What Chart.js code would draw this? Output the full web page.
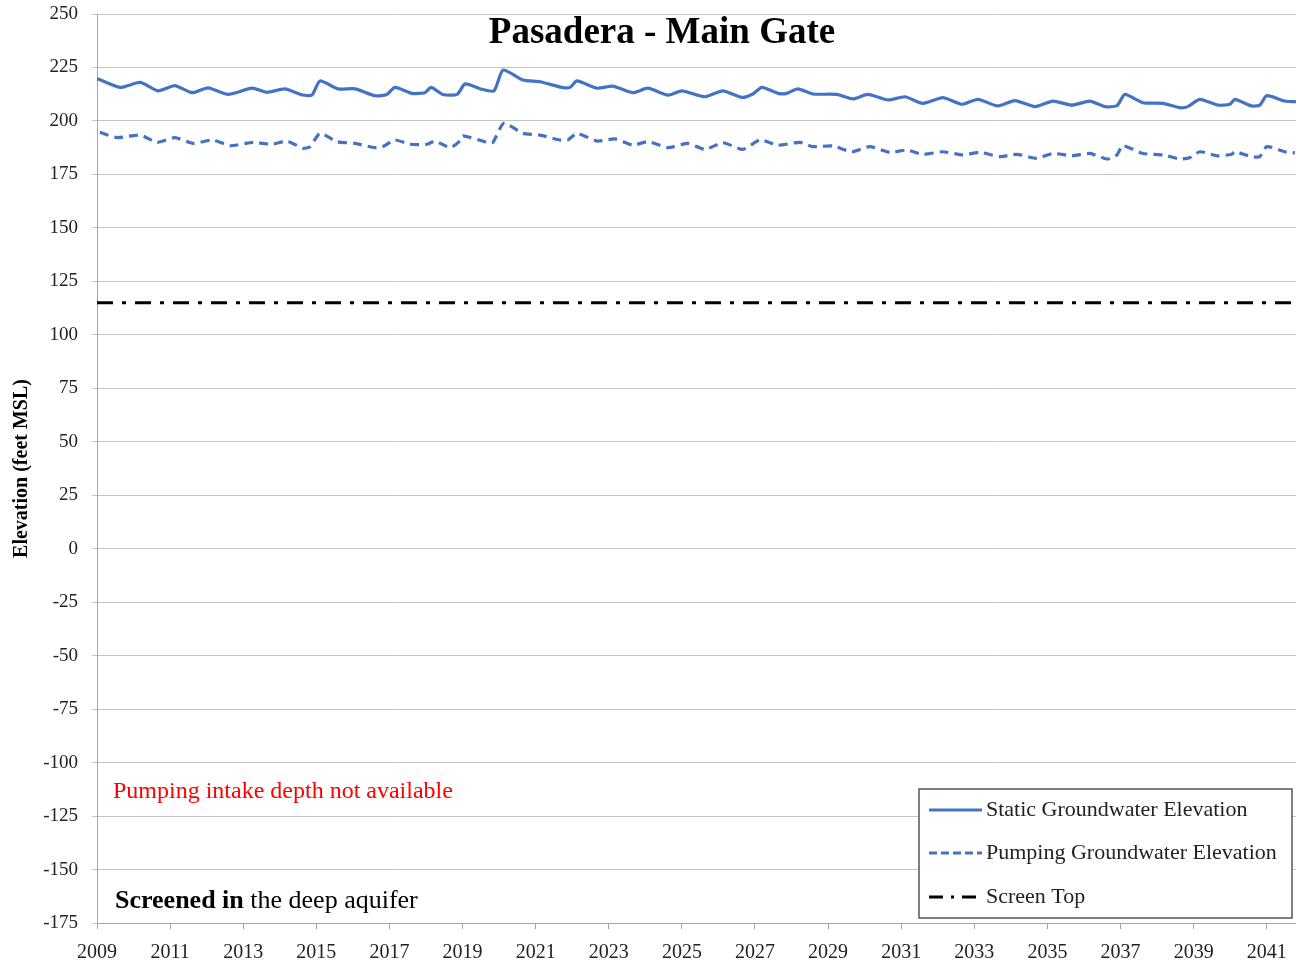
<!DOCTYPE html>
<html>
<head>
<meta charset="utf-8">
<script src="https://cdn.jsdelivr.net/npm/chart.js@4.4.1/dist/chart.umd.min.js"></script>
<style>
  html, body { margin: 0; padding: 0; background: #fff; }
</style>
</head>
<body>
<canvas id="myChart" width="1296" height="966"></canvas>
<script>
const ctx = document.querySelector("#myChart").getContext("2d");

const chartTitle = "Pasadera - Main Gate";
const yTitle = "Elevation (feet MSL)";
const serif = '"Liberation Serif", "DejaVu Serif", serif';
const blue = "#4472c4";

// static groundwater elevation (decimal year, feet MSL)
const staticYears = [
  2009.03, 2009.63, 2010.18, 2010.67, 2011.13, 2011.60, 2012.04, 2012.58, 2013.24, 2013.65,
  2014.14, 2014.63, 2014.88, 2015.10, 2015.59, 2016.06, 2016.60, 2016.93, 2017.15, 2017.62,
  2017.97, 2018.14, 2018.46, 2018.85, 2019.07, 2019.53, 2019.86, 2020.11, 2020.65, 2021.12,
  2021.72, 2021.94, 2022.13, 2022.68, 2023.11, 2023.66, 2024.07, 2024.62, 2025.00, 2025.63,
  2026.12, 2026.64, 2026.94, 2027.19, 2027.63, 2027.87, 2028.17, 2028.58, 2029.24, 2029.68,
  2030.09, 2030.64, 2031.10, 2031.59, 2032.14, 2032.66, 2033.10, 2033.64, 2034.11, 2034.66,
  2035.15, 2035.67, 2036.16, 2036.57, 2036.90, 2037.12, 2037.61, 2038.16, 2038.62, 2038.84,
  2039.17, 2039.66, 2039.99, 2040.13, 2040.59, 2040.81, 2041.00, 2041.49, 2041.77
];
const staticElev = [
  219.6, 215.7, 218.0, 214.1, 216.5, 213.2, 215.5, 212.4, 215.3, 213.4,
  215.0, 212.1, 212.1, 218.7, 215.0, 215.0, 211.8, 212.4, 215.7, 212.9,
  213.2, 215.7, 212.4, 212.4, 217.3, 214.8, 214.1, 223.8, 219.1, 218.3,
  215.7, 215.7, 218.7, 215.3, 216.3, 213.2, 215.3, 212.1, 214.1, 211.3,
  214.1, 211.0, 212.6, 215.7, 212.9, 212.9, 215.0, 212.6, 212.4, 210.3,
  212.4, 209.8, 211.3, 208.2, 210.9, 207.8, 210.1, 207.0, 209.5, 206.7,
  209.3, 207.4, 209.3, 206.7, 207.1, 212.4, 208.5, 208.2, 206.2, 206.7,
  210.1, 207.4, 207.8, 210.1, 207.0, 207.4, 211.8, 209.3, 209.0
];

// pumping groundwater elevation
const pumpYears = [
  2009.08, 2009.55, 2010.18, 2010.64, 2011.13, 2011.63, 2012.17, 2012.64, 2013.27, 2013.79,
  2014.20, 2014.63, 2014.83, 2015.10, 2015.56, 2016.06, 2016.60, 2016.82, 2017.15, 2017.56,
  2018.03, 2018.25, 2018.66, 2018.93, 2019.01, 2019.67, 2019.83, 2020.13, 2020.65, 2021.12,
  2021.66, 2021.88, 2022.13, 2022.68, 2023.17, 2023.66, 2024.07, 2024.62, 2025.16, 2025.63,
  2026.12, 2026.67, 2027.14, 2027.63, 2028.23, 2028.58, 2029.13, 2029.65, 2030.14, 2030.69,
  2031.16, 2031.59, 2032.14, 2032.69, 2033.15, 2033.70, 2034.16, 2034.71, 2035.15, 2035.67,
  2036.16, 2036.63, 2036.90, 2037.06, 2037.61, 2038.16, 2038.62, 2038.89, 2039.17, 2039.66,
  2040.04, 2040.13, 2040.59, 2040.81, 2041.00, 2041.49, 2041.77
];
const pumpElev = [
  194.7, 192.2, 193.4, 190.0, 192.2, 189.5, 191.1, 188.4, 190.0, 189.1,
  190.6, 187.2, 188.0, 194.2, 190.3, 189.5, 187.5, 188.0, 191.1, 189.1,
  189.1, 190.6, 187.5, 190.6, 193.0, 190.0, 190.0, 198.9, 194.2, 193.4,
  191.1, 191.1, 194.2, 190.6, 191.6, 188.7, 190.3, 187.5, 189.5, 186.7,
  189.8, 186.7, 191.1, 188.7, 190.0, 188.0, 188.3, 185.6, 188.0, 185.3,
  186.4, 184.4, 185.6, 184.1, 185.3, 183.3, 184.4, 182.5, 184.8, 183.7,
  184.8, 182.2, 184.1, 188.4, 184.8, 184.1, 182.2, 182.8, 185.6, 183.7,
  184.4, 185.6, 183.3, 183.3, 188.0, 185.6, 185.1
];

// top of well screen
const screenTopYears = [2009, 2041.8];
const screenTopElev = [115, 115];

const xTickYears = [2009, 2011, 2013, 2015, 2017, 2019, 2021, 2023, 2025, 2027, 2029, 2031, 2033, 2035, 2037, 2039, 2041];

const toPoints = (xs, ys) => xs.map((x, i) => ({ x: x, y: ys[i] }));

const data = {
  datasets: [{
    label: "Static Groundwater Elevation",
    data: toPoints(staticYears, staticElev),
    borderColor: blue,
    borderWidth: 3.2,
    borderJoinStyle: "round",
    borderCapStyle: "round",
    pointRadius: 0,
    tension: 0.2,
  }, {
    label: "Pumping Groundwater Elevation",
    data: toPoints(pumpYears, pumpElev),
    borderColor: blue,
    borderWidth: 3.2,
    borderDash: [9, 6],
    borderJoinStyle: "round",
    pointRadius: 0,
    tension: 0.2,
  }, {
    label: "Screen Top",
    data: toPoints(screenTopYears, screenTopElev),
    borderColor: "#000",
    borderWidth: 3,
    borderDash: [16, 9, 4, 9],
    pointRadius: 0,
  }]
};

// title, notes and the boxed legend are drawn straight onto the canvas
const overlay = {
  id: "overlay",
  afterDraw(chart) {
    const c = chart.ctx;
    c.save();
    c.textBaseline = "middle";

    c.fillStyle = "#000";
    c.textAlign = "center";
    c.font = "bold 37px " + serif;
    c.fillText(chartTitle, 662, 33);

    c.textAlign = "left";
    c.fillStyle = "#ff0000";
    c.font = "24px " + serif;
    c.fillText("Pumping intake depth not available", 113, 792);

    c.fillStyle = "#000";
    c.font = "bold 26px " + serif;
    c.fillText("Screened in", 115, 901);
    const w = c.measureText("Screened in ").width;
    c.font = "26px " + serif;
    c.fillText("the deep aquifer", 115 + w, 901);

    // legend box
    const bx = 919, by = 789, bw = 373, bh = 129;
    c.fillStyle = "#fff";
    c.fillRect(bx, by, bw, bh);
    c.strokeStyle = "#555";
    c.lineWidth = 1.5;
    c.strokeRect(bx, by, bw, bh);

    const rows = [810, 853, 897];
    chart.data.datasets.forEach((ds, i) => {
      const y = rows[i];
      c.beginPath();
      c.strokeStyle = ds.borderColor;
      c.lineWidth = 3;
      c.setLineDash(i === 1 ? [8, 4] : i === 2 ? [14, 8, 3, 8] : []);
      c.moveTo(929, y);
      c.lineTo(982, y);
      c.stroke();
      c.setLineDash([]);
      c.fillStyle = "#222";
      c.font = "22px " + serif;
      c.fillText(ds.label, 986, y);
    });
    c.restore();
  }
};

const config = {
  type: "line",
  data: data,
  options: {
    responsive: false,
    animation: false,
    layout: { padding: { top: 14, right: 0, left: 0, bottom: 0 } },
    plugins: {
      legend: { display: false },
      tooltip: { enabled: false },
    },
    scales: {
      x: {
        type: "linear",
        min: 2009,
        max: 2041.8,
        afterBuildTicks: (axis) => { axis.ticks = xTickYears.map(v => ({ value: v })); },
        afterFit: (axis) => {
          axis.height = 43;
          axis.paddingLeft = 0;
          axis.paddingRight = 0;
        },
        grid: {
          drawOnChartArea: false,
          drawTicks: true,
          tickLength: 6,
          color: "#a6a6a6",
        },
        border: { color: "#a6a6a6", width: 1 },
        ticks: {
          padding: 12,
          maxRotation: 0,
          color: "#222",
          font: { family: serif, size: 20 },
          callback: (v) => String(v),
        },
      },
      y: {
        min: -175,
        max: 250,
        afterFit: (axis) => {
          axis.width = 97;
          axis.paddingTop = 0;
          axis.paddingBottom = 0;
        },
        grid: {
          color: "#c4c4c4",
          lineWidth: 1,
          tickLength: 5,
        },
        border: { color: "#a6a6a6", width: 1 },
        ticks: {
          stepSize: 25,
          padding: 14,
          color: "#222",
          font: { family: serif, size: 19 },
        },
        title: {
          display: true,
          text: yTitle,
          color: "#000",
          font: { family: serif, size: 20, weight: "bold" },
          padding: { top: 10, bottom: 0 },
        },
      }
    }
  },
  plugins: [overlay],
};

const myChart = new Chart(ctx, config);
</script>
</body>
</html>
